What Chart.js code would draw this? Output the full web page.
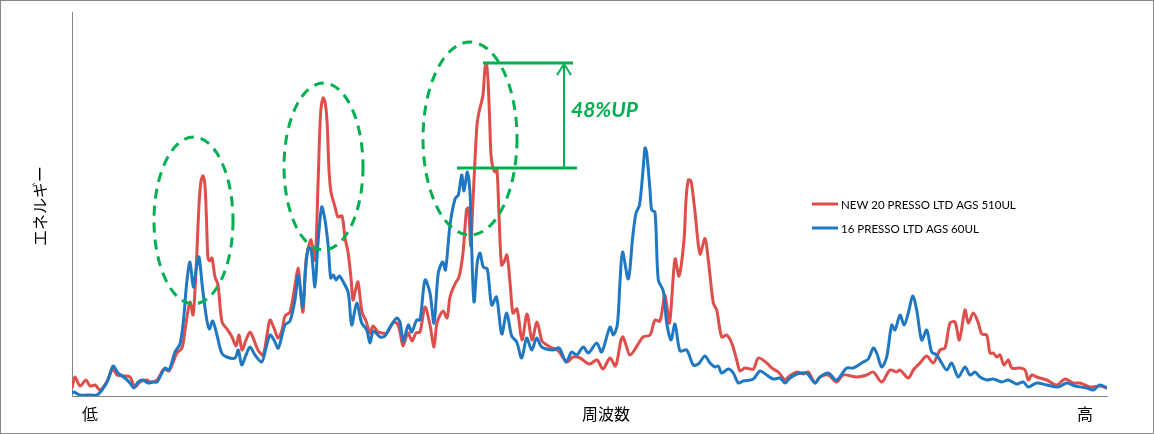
<!DOCTYPE html>
<html><head><meta charset="utf-8">
<script src="https://cdn.jsdelivr.net/npm/chart.js@4.4.0/dist/chart.umd.min.js"></script>
<style>html,body{margin:0;padding:0;background:#fff}</style>
</head><body>
<canvas id="c" width="1154" height="434" style="display:block;width:1154px;height:434px"></canvas>
<script>
// ---- data (frequency in arbitrary units, energy in arbitrary units) ----
const seriesNames = ['NEW 20 PRESSO LTD AGS 510UL', '16 PRESSO LTD AGS 60UL'];
const redFreq = [0,3,8,14,18,23,28,34,41,45,53,58,63,68,75,78,85,92,97,105,110,113,115,118,121,123,125,127,129,131,133,134.5,136,138,140,143,146,150,155,160,164,167,170,174,178,182,186,191,195,198,202,206,210,213,218,223,226,228,231,234,237,239,243,246,248.5,251,253,255,257,259,263,266,270,273,276,279,281,283.5,286,290,294,298,301,306,310,315,321,325,328,331,336,340,344,348,353,358,362,365,371,375,378,383,387,391,394.5,396.5,398.7,400.7,403,405,407,409,411,413,414.5,416,417.5,419,421,423,425,427,429.5,432,435,438.5,441,445,450,455,460,465,470,475,478,485,488,495,501,508,515,518,525,531,538,543.5,549,551,554,558,565,571,578,583,588,593,597.5,603,607,612,614,616.3,619,623,628,633,636.3,641.3,644.7,649.7,654.7,659.7,664.7,668,673,681.3,686.3,694.7,699.7,706.3,713,716.3,724.7,731.3,736.3,743,748,756.3,764.7,771.3,784.7,794.7,801.3,809.7,818,824.7,828,836.3,841.3,848,854.7,861.3,868,873,878,883,887.3,893,896.3,901.3,906.3,909.7,914.7,918,921.3,924.7,928,932,936.3,939.7,948,953,956.3,959.7,964.7,974.7,984.7,993,1001.3,1008,1018,1028,1035];
const redEnergy = [8,19,10,16,10,11,6,13,27,21,20,19,9,14,16,14,16,27,25,43,48,66,79,94,81,106,146,191,215,220,210,176,138,135,138,119,111,74,67,59,50,61,46,56,64,56,46,41,61,76,68,58,66,80,84,111,128,111,84,136,151,156,136,211,281,298,294,276,226,204,189,179,180,158,144,118,96,106,114,84,75,63,70,64,63,63,73,73,64,50,63,55,63,64,89,71,49,73,85,78,99,112,119,143,186,188,150,189,236,271,284,292,301,328,332,316,281,241,228,224,226,181,131,134,141,108,83,87,56,82,56,74,55,51,49,46,43,34,39,38,33,32,36,27,38,30,56,59,51,41,50,59,61,76,75,101,73,137,120,156,196,216,215,184,142,157.5,136,93,86,59,61,53,36,25,28,27,38,33,28,24,16,19,24,22,24,13,19,21,14,21,19,21,24,14,26,24,26,18,26,33,40,33,46,48,73,74,56,86,73,83,73,62,61,43,43,39,41,31,36,28,28,26,16,21,19,16,11,17,13,13,9,10,8];
const blueFreq = [0,2,8,18,25,30,36,41,46,53,58,62,66,71,76,81,85,93,97,103,108,111.5,114.7,118,121.3,124.5,127,130.5,134.5,137.3,140.7,144.7,149.7,154.7,163,166.3,169.7,174,178,183,189.7,194,198,202,206.3,213,218,223,226.3,230.7,233.5,236.3,239,243,245.7,249.7,253,256.3,258.7,261.3,264,267.3,271.3,276.3,279.7,284.7,289.7,294.7,298,301.3,308,313,318,324.7,328,331.3,336.3,339.7,344.7,348,353,358,362,366.3,370.7,373.5,378,383,386.3,389.7,392,395.3,398,399.7,402,405.3,408,411.3,415.3,419.7,424.5,429.7,434.7,439.7,444.7,449.7,454.7,459.7,464.7,469.7,481.3,487.3,494,499.7,504.7,511.3,516.3,524.7,529.7,538,541.3,545.3,548,550.5,556.3,560.7,564,567.5,571.3,573,574.7,578,579.7,583,586.3,591.3,594.7,599,603,608,614.7,621.3,626.3,633,638,643,646.3,649.7,656.3,661.3,666.3,671.3,681.3,688,694.7,701.3,708,713,718,724.7,729.7,734.7,743,748,756.3,764.7,774.7,781.3,791.3,796.3,801.3,804.7,809.7,814.7,819.7,823,828,832,836.3,840.7,844.7,849.7,854.7,859.7,864.7,869.7,874.7,879.7,886.3,893,898,903,908,914.7,921.3,929.7,936.3,944.7,951.3,956.3,964.7,974.7,986.3,994.7,1003,1014.7,1021.3,1028,1035];
const blueEnergy = [3,4,1,1,1,6,16,30,23,18,13,8,14,16,13,14,14,28,26,44,52,76,113,134,109,129,139,108,78,67,75,62,43,39,38,46,31,41,49,41,34,48,61,56,48,71,75,96,121,89,126,148,147,109,149,189,176,149,118,121,116,120,114,103,71,93,73,66,53,65,59,60,69,78,74,55,71,64,76,76,116,103,73,123,134,126,171,197,201,221,205,224,203,148,94,134,143,129,127,91,99,62,83,60,54,38,58,46,58,49,46,48,34,44,41,49,43,53,44,69,61,71,114,144,117,159,183,191,229,248,243,206,186,184,116,105,73,56,72,45,46,31,32,40,33,29,30,23,27,23,13,15,17,25,21,17,18,13,18,22,23,23,13,19,23,16,28,28,34,37,48,43,29,39,71,66,81,71,83,100,86,56,66,44,41,33,26,33,19,29,21,24,19,16,17,14,16,12,14,9,13,11,9,13,10,8,6,11,8];
const axisLabels = ['低', '周波数', '高'];
const yAxisTitle = 'エネルギー';
const gainLabel = '48%UP';
const gainLevels = [228, 333];   // compared peak levels (energy units)

// ---- annotation geometry (data units) ----
const peakMarks = [
  {cx: 121.5, cy: 175.5, rx: 39.5, ry: 83.5},
  {cx: 251.5, cy: 229.5, rx: 39.5, ry: 83.5},
  {cx: 398,   cy: 257.5, rx: 47,   ry: 96.5}
];
const bracket = {lowFrom: 385, lowTo: 505, highFrom: 411, highTo: 501, arrowAt: 492, textAt: 499};
const axisLabelAt = [18, 534, 1013];

const RED = '#DE4F4B', BLUE = '#1F78C1', GREEN = '#00B050', AXIS = '#868686';

const deco = {
  id: 'deco',
  beforeDraw(chart) {
    const ctx = chart.ctx;
    ctx.save();
    ctx.fillStyle = '#fff';
    ctx.fillRect(0, 0, chart.width, chart.height);
    ctx.restore();
  },
  afterDraw(chart) {
    const {ctx, chartArea: ca, scales: {x, y}} = chart;
    ctx.save();
    // outer frame
    ctx.strokeStyle = AXIS; ctx.lineWidth = 1;
    ctx.strokeRect(0.5, 0.5, chart.width - 1, chart.height - 1);
    // dashed ellipses
    ctx.strokeStyle = GREEN; ctx.lineWidth = 3; ctx.setLineDash([10, 7]);
    for (const e of peakMarks) {
      const px = x.getPixelForValue(e.cx), py = y.getPixelForValue(e.cy);
      const rx = x.getPixelForValue(e.cx + e.rx) - px;
      const ry = py - y.getPixelForValue(e.cy + e.ry);
      ctx.beginPath(); ctx.ellipse(px, py, rx, ry, 0, 0, Math.PI * 2); ctx.stroke();
    }
    ctx.setLineDash([]);
    // bracket
    const yl = y.getPixelForValue(gainLevels[0]), yh = y.getPixelForValue(gainLevels[1]);
    ctx.lineWidth = 3;
    ctx.beginPath();
    ctx.moveTo(x.getPixelForValue(bracket.lowFrom), yl); ctx.lineTo(x.getPixelForValue(bracket.lowTo), yl);
    ctx.moveTo(x.getPixelForValue(bracket.highFrom), yh); ctx.lineTo(x.getPixelForValue(bracket.highTo), yh);
    ctx.stroke();
    const ax = x.getPixelForValue(bracket.arrowAt);
    ctx.lineWidth = 2;
    ctx.beginPath(); ctx.moveTo(ax, yl); ctx.lineTo(ax, yh + 1); ctx.stroke();
    ctx.beginPath(); ctx.moveTo(ax - 7, yh + 12); ctx.lineTo(ax, yh + 1); ctx.lineTo(ax + 7, yh + 12); ctx.stroke();
    // gain text
    ctx.fillStyle = GREEN;
    ctx.font = 'italic bold 21px Lato, "Open Sans", sans-serif';
    ctx.textAlign = 'left'; ctx.textBaseline = 'middle';
    ctx.fillText(gainLabel, x.getPixelForValue(bracket.textAt), (yl + yh) / 2 - 5);
    // axis labels
    ctx.fillStyle = '#000';
    ctx.font = '16px "Noto Sans CJK JP", sans-serif';
    ctx.textAlign = 'center'; ctx.textBaseline = 'middle';
    axisLabels.forEach((t, i) => ctx.fillText(t, x.getPixelForValue(axisLabelAt[i]), ca.bottom + 18));
    ctx.save();
    ctx.translate(40, (ca.top + ca.bottom) / 2 + 2);
    ctx.rotate(-Math.PI / 2);
    ctx.fillText(yAxisTitle, 0, 0);
    ctx.restore();
    // legend
    const lx = ca.left + 740, ly0 = 204;
    ctx.font = '11.5px Lato, "Open Sans", sans-serif';
    ctx.textAlign = 'left'; ctx.textBaseline = 'middle';
    chart.data.datasets.forEach((ds, i) => {
      const ly = ly0 + i * 24;
      ctx.strokeStyle = ds.borderColor; ctx.lineWidth = 3;
      ctx.beginPath(); ctx.moveTo(lx, ly); ctx.lineTo(lx + 26, ly); ctx.stroke();
      ctx.fillStyle = '#000';
      ctx.fillText(ds.label, lx + 29, ly + 1);
    });
    ctx.restore();
  }
};

const toPts = (xs, ys) => xs.map((v, i) => ({x: v, y: ys[i]}));

new Chart(document.getElementById('c'), {
  type: 'line',
  data: {
    datasets: [
      {label: seriesNames[0], data: toPts(redFreq, redEnergy), borderColor: RED, borderWidth: 3, pointRadius: 0, tension: 0.3, order: 2, fill: false},
      {label: seriesNames[1], data: toPts(blueFreq, blueEnergy), borderColor: BLUE, borderWidth: 3, pointRadius: 0, tension: 0.3, order: 1, fill: false}
    ]
  },
  options: {
    responsive: false,
    animation: false,
    devicePixelRatio: 1,
    layout: {padding: {left: 72, right: 47, top: 12, bottom: 38}},
    plugins: {legend: {display: false}, tooltip: {enabled: false}},
    scales: {
      x: {type: 'linear', min: 0, max: 1035,
          grid: {display: false, drawTicks: false}, ticks: {display: false},
          border: {display: true, color: AXIS, width: 1}},
      y: {type: 'linear', min: 0, max: 384,
          grid: {display: false, drawTicks: false}, ticks: {display: false},
          border: {display: true, color: AXIS, width: 1}}
    }
  },
  plugins: [deco]
});
</script>
</body></html>
